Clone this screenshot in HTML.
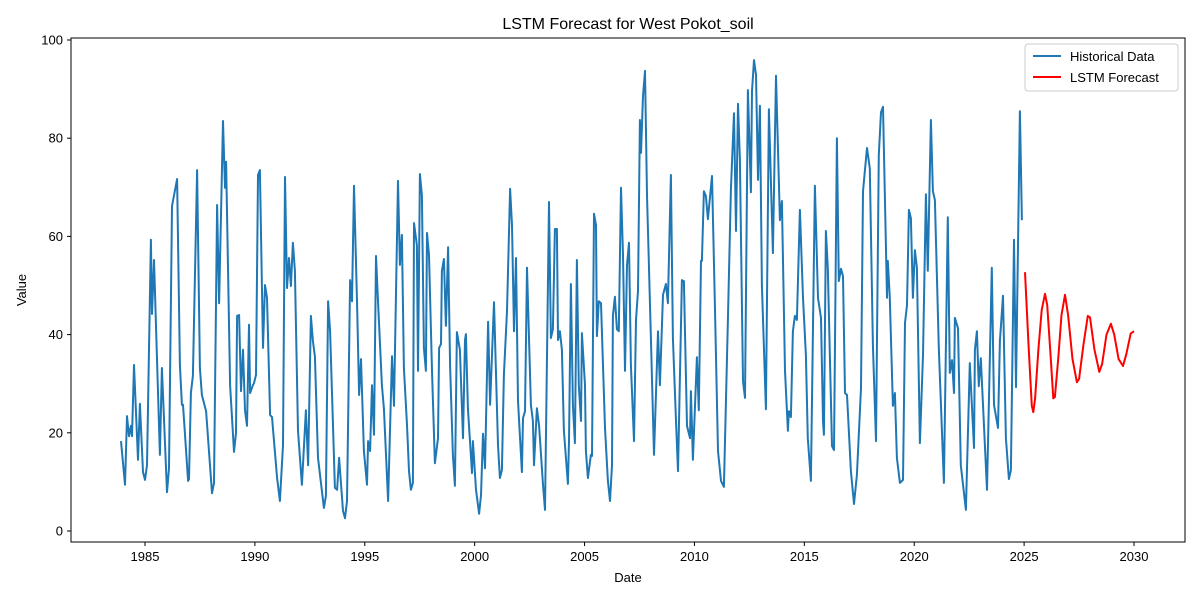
<!DOCTYPE html>
<html><head><meta charset="utf-8">
<style>
html,body{margin:0;padding:0;background:#fff;}
svg{display:block;font-family:"Liberation Sans","DejaVu Sans",sans-serif;}
</style></head>
<body>
<svg id="chart" width="1200" height="600" viewBox="0 0 1200 600" xmlns="http://www.w3.org/2000/svg">
<rect x="0" y="0" width="1200" height="600" fill="#fff"/>
<text x="628" y="29" font-size="16" text-anchor="middle" fill="#000">LSTM Forecast for West Pokot_soil</text>
<text x="628" y="582" font-size="13" text-anchor="middle" fill="#000">Date</text>
<text x="26" y="290" font-size="13" text-anchor="middle" fill="#000" transform="rotate(-90 26 290)">Value</text>
<g id="ticks"></g>
<g id="series"></g>
<rect x="71" y="38" width="1114" height="504" fill="none" stroke="#000" stroke-width="1"/>
<g>
<rect x="1025" y="44" width="153" height="47" rx="3" fill="#fff" fill-opacity="0.8" stroke="#ccc"/>
<line x1="1033" y1="56" x2="1061" y2="56" stroke="#1f77b4" stroke-width="2"/>
<text x="1070" y="61" font-size="13">Historical Data</text>
<line x1="1033" y1="77" x2="1061" y2="77" stroke="#ff0000" stroke-width="2"/>
<text x="1070" y="82" font-size="13">LSTM Forecast</text>
</g>
</svg>
<script>
const histDates=[1983.91,1984.09,1984.18,1984.27,1984.36,1984.41,1984.50,1984.68,1984.77,1984.91,1985.00,1985.09,1985.27,1985.32,1985.41,1985.68,1985.77,1986.00,1986.09,1986.23,1986.46,1986.59,1986.68,1986.73,1986.96,1987.00,1987.09,1987.18,1987.37,1987.50,1987.59,1987.78,1988.05,1988.14,1988.28,1988.37,1988.55,1988.64,1988.69,1988.87,1989.05,1989.14,1989.19,1989.28,1989.37,1989.46,1989.55,1989.64,1989.73,1989.78,1989.91,1989.96,1990.05,1990.14,1990.23,1990.37,1990.46,1990.55,1990.69,1990.78,1991.01,1991.14,1991.28,1991.37,1991.46,1991.55,1991.64,1991.73,1991.82,1991.96,1992.14,1992.32,1992.42,1992.55,1992.64,1992.73,1992.87,1993.14,1993.23,1993.33,1993.42,1993.64,1993.74,1993.83,1994.01,1994.10,1994.19,1994.33,1994.42,1994.51,1994.65,1994.74,1994.83,1994.96,1995.10,1995.15,1995.24,1995.33,1995.42,1995.51,1995.60,1995.78,1995.87,1996.06,1996.24,1996.33,1996.51,1996.60,1996.69,1996.78,1996.92,1997.01,1997.10,1997.19,1997.24,1997.37,1997.42,1997.51,1997.60,1997.69,1997.78,1997.83,1997.92,1998.06,1998.19,1998.33,1998.38,1998.47,1998.51,1998.60,1998.69,1998.79,1998.88,1999.01,1999.10,1999.19,1999.33,1999.47,1999.56,1999.60,1999.69,1999.88,1999.92,2000.06,2000.20,2000.29,2000.38,2000.47,2000.61,2000.70,2000.88,2001.06,2001.15,2001.24,2001.33,2001.47,2001.61,2001.70,2001.79,2001.88,2001.97,2002.15,2002.20,2002.29,2002.38,2002.56,2002.65,2002.70,2002.83,2002.93,2003.11,2003.20,2003.38,2003.47,2003.56,2003.65,2003.74,2003.79,2003.88,2003.97,2004.06,2004.24,2004.29,2004.38,2004.47,2004.56,2004.65,2004.74,2004.84,2004.88,2005.02,2005.06,2005.15,2005.29,2005.34,2005.43,2005.52,2005.56,2005.65,2005.75,2005.93,2006.06,2006.16,2006.25,2006.29,2006.38,2006.47,2006.56,2006.66,2006.75,2006.84,2006.93,2007.02,2007.11,2007.25,2007.34,2007.43,2007.52,2007.57,2007.66,2007.75,2007.84,2008.02,2008.16,2008.34,2008.43,2008.57,2008.70,2008.79,2008.93,2009.02,2009.16,2009.25,2009.43,2009.52,2009.66,2009.80,2009.84,2009.93,2010.11,2010.20,2010.30,2010.34,2010.43,2010.52,2010.61,2010.80,2010.93,2011.07,2011.21,2011.34,2011.52,2011.66,2011.80,2011.89,2011.98,2012.07,2012.21,2012.30,2012.43,2012.57,2012.62,2012.71,2012.80,2012.89,2012.98,2013.07,2013.25,2013.39,2013.57,2013.71,2013.89,2013.98,2014.12,2014.25,2014.30,2014.39,2014.48,2014.57,2014.66,2014.80,2014.94,2015.07,2015.16,2015.30,2015.48,2015.62,2015.76,2015.85,2015.89,2015.98,2016.07,2016.26,2016.35,2016.48,2016.57,2016.67,2016.76,2016.85,2016.94,2017.12,2017.26,2017.39,2017.58,2017.67,2017.85,2017.98,2018.12,2018.26,2018.39,2018.49,2018.58,2018.76,2018.80,2018.89,2019.03,2019.12,2019.21,2019.35,2019.49,2019.58,2019.67,2019.76,2019.85,2019.94,2020.03,2020.12,2020.26,2020.40,2020.53,2020.62,2020.76,2020.85,2020.94,2021.12,2021.35,2021.53,2021.62,2021.72,2021.81,2021.85,2021.99,2022.12,2022.35,2022.53,2022.72,2022.76,2022.85,2022.94,2023.03,2023.31,2023.53,2023.63,2023.81,2023.90,2024.04,2024.17,2024.31,2024.40,2024.54,2024.63,2024.81,2024.90];
const histValues=[18.3,9.4,23.4,19.3,21.4,19.3,33.8,14.5,25.9,12,10.4,13.4,59.3,44.2,55.2,15.5,33.2,7.9,12.8,66.2,71.7,33.8,25.7,25.7,10.2,10.6,28.1,31.6,73.5,33.2,27.7,24.4,7.7,9.8,66.4,46.4,83.5,69.9,75.2,29.7,16.1,20,43.8,44,28.5,36.9,24.6,21.4,42,28.1,29.7,30.1,31.8,72.5,73.5,37.3,50.1,47.5,23.6,23.2,10.8,6.1,17.5,72.1,49.5,55.6,49.9,58.7,53,20.4,9.4,24.6,13.4,43.8,38.7,35.6,14.9,4.7,7.1,46.8,40.7,8.8,8.4,14.9,4.1,2.6,6.1,51.1,46.8,70.3,46,27.7,35,16.3,9.4,18.3,16.3,29.7,19.6,56,46.8,29.7,25,6.1,35.6,25.5,71.3,54.2,60.3,33.2,21.6,12.2,8.4,9.8,62.7,58.2,32.6,72.7,68.4,37.3,32.6,60.7,56.2,32.6,13.8,18.9,37.3,38.1,53,55.4,41.8,57.8,33.6,15.5,9.2,40.5,36.9,18.9,38.9,40.1,25,11.8,18.3,8.4,3.5,7.3,19.8,12.8,42.6,25.7,46.6,17.5,10.8,12.4,31.8,44.8,69.7,62.3,40.7,55.6,26.5,12,23,24.4,53.6,25.7,22.4,13.4,25,21.4,9.4,4.3,67,39.3,41.1,61.5,61.5,38.9,40.7,36.9,20.4,9.6,18.3,50.3,25.7,17.9,55.2,29.7,22.4,40.3,29.7,16.3,10.8,15.5,15.3,64.6,62.3,39.7,46.8,46.4,21,10.2,6.1,13.4,43.8,47.7,41.1,40.7,69.9,56.2,32.6,54.2,58.7,33.8,18.3,43,48.9,83.7,77,88.6,93.7,68.4,39.3,15.5,40.7,29.7,48.1,50.3,46.4,72.5,39.3,22.4,12.2,51.1,50.9,21.4,18.9,28.5,14.5,35.4,24.6,55,55,69.2,68.2,63.5,72.3,46,16.3,10.2,9,43,69.5,85.1,61.1,87,75.6,30.5,27.1,89.8,69,89.6,95.9,92.9,71.5,86.6,50.1,24.8,85.9,56.6,92.7,63.3,67.2,32.6,20.4,24.4,23.2,40.7,43.8,43,65.4,47.5,35.8,18.9,10.2,70.3,47.5,43.4,22.4,19.6,61.1,53.6,17.3,16.5,80,50.9,53.4,51.9,28.1,27.7,12.2,5.5,11.4,29.1,69.2,78,73.9,37.9,18.3,76.6,85.3,86.4,47.5,55,47.5,25.5,28.1,14.9,9.8,10.4,42.4,46,65.4,63.7,47.5,57.2,53.6,17.9,35.8,68.6,53,83.7,69.2,67.4,37.3,9.8,63.9,32.2,34.8,28.1,43.4,41.3,13.4,4.3,34.2,16.9,36.9,40.7,29.5,35.2,8.4,53.6,25.7,21,38.7,47.9,18.9,10.6,12.4,59.3,29.3,85.5,63.3];
const fcDates=[2025.04,2025.2,2025.35,2025.42,2025.5,2025.65,2025.8,2025.95,2026.05,2026.2,2026.33,2026.4,2026.55,2026.7,2026.86,2027.0,2027.2,2027.4,2027.5,2027.7,2027.9,2028.0,2028.2,2028.42,2028.55,2028.75,2028.95,2029.1,2029.3,2029.5,2029.65,2029.85,2030.0];
const fcValues=[52.7,38,25.5,24.2,27,37,45,48.3,46,36,27,27.3,35,44,48.1,44,35,30.3,31,38,43.8,43.5,37,32.4,34,40,42.2,40,35,33.6,36,40.2,40.7];
const xTicks=[1985,1990,1995,2000,2005,2010,2015,2020,2025,2030];
const yTicks=[0,20,40,60,80,100];

const NS='http://www.w3.org/2000/svg';
function xs(d){return 145+(d-1985)*(1134-145)/45;}
function ys(v){return 531-v*(531-40)/100;}
const tg=document.getElementById('ticks');
xTicks.forEach(t=>{
  const l=document.createElementNS(NS,'line');
  l.setAttribute('x1',xs(t));l.setAttribute('x2',xs(t));l.setAttribute('y1',542);l.setAttribute('y2',546);
  l.setAttribute('stroke','#000');
  
  
  tg.appendChild(l);
  const tx=document.createElementNS(NS,'text');
  tx.setAttribute('x',xs(t));tx.setAttribute('y',561);tx.setAttribute('font-size','13');tx.setAttribute('text-anchor','middle');
  tx.textContent=t;
  
  
  tg.appendChild(tx);
});
yTicks.forEach(t=>{
  const l=document.createElementNS(NS,'line');
  l.setAttribute('x1',67);l.setAttribute('x2',71);l.setAttribute('y1',ys(t));l.setAttribute('y2',ys(t));
  l.setAttribute('stroke','#000');
  
  
  tg.appendChild(l);
  const tx=document.createElementNS(NS,'text');
  tx.setAttribute('x',63);tx.setAttribute('y',ys(t)+4.5);tx.setAttribute('font-size','13');tx.setAttribute('text-anchor','end');
  tx.textContent=t;
  
  
  tg.appendChild(tx);
});
const sg=document.getElementById('series');
function line(dates,vals,color,name){
  const p=document.createElementNS(NS,'polyline');
  p.setAttribute('points',dates.map((d,i)=>xs(d).toFixed(1)+','+ys(vals[i]).toFixed(1)).join(' '));
  p.setAttribute('fill','none');p.setAttribute('stroke',color);p.setAttribute('stroke-width','2');
  p.setAttribute('stroke-linejoin','round');
  
  
  sg.appendChild(p);
}
line(histDates,histValues,'#1f77b4','historical-data-line');
line(fcDates,fcValues,'#ff0000','lstm-forecast-line');
</script>
</body></html>
